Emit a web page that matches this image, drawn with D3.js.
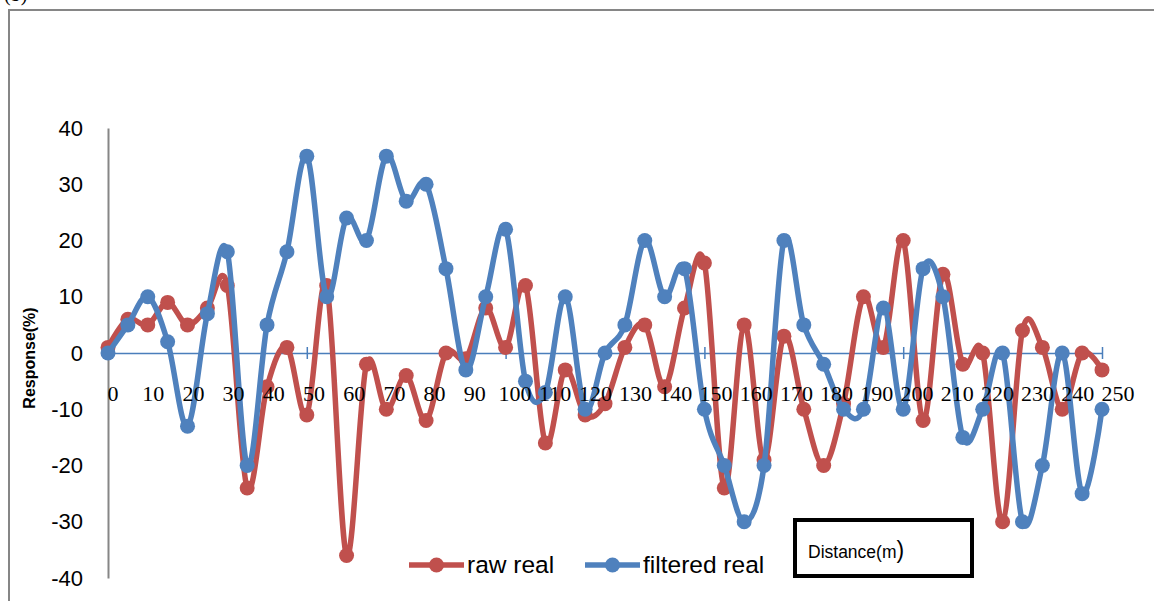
<!DOCTYPE html>
<html>
<head>
<meta charset="utf-8">
<script src="https://cdn.jsdelivr.net/npm/d3@7"></script>
<style>
  body { margin: 0; background: #fff; }
  svg { display: block; }
</style>
</head>
<body>
<svg id="chart"></svg>
<script>
// values (51 points, one every 5 m)
var rawReal = [1, 6, 5, 9, 5, 8, 12, -24, -6, 1, -11, 12, -36, -2, -10, -4, -12, 0, -1, 8,
    1, 12, -16, -3, -11, -9, 1, 5, -6, 8, 16, -24, 5, -19, 3, -10, -20, -9, 10, 1,
    20, -12, 14, -2, 0, -30, 4, 1, -10, 0, -3];
var filteredReal = [0, 5, 10, 2, -13, 7, 18, -20, 5, 18, 35, 10, 24, 20, 35, 27, 30, 15, -3, 10,
    22, -5, -7, 10, -10, 0, 5, 20, 10, 15, -10, -20, -30, -20, 20, 5, -2, -10, -10, 8,
    -10, 15, 10, -15, -10, 0, -30, -20, 0, -25, -10];
var yTicks = [40, 30, 20, 10, 0, -10, -20, -30, -40];
var distLabels = ["0", "10", "20", "30", "40", "50", "60", "70", "80", "90", "100", "110", "120",
    "130", "140", "150", "160", "170", "180", "190", "200", "210", "220", "230", "240", "250"];
var seriesNames = ["raw real", "filtered real"];

const width = 1154;
const height = 601;
const red = "#C0504D";
const blue = "#4F81BD";

var svg = d3.select("#chart")
    .attr("width", width)
    .attr("height", height)
    .attr("viewBox", [0, 0, width, height]);

// outer frame (right/bottom run off the picture)
svg.append("path")
    .attr("d", "M9,601 V10 H1160")
    .attr("fill", "none")
    .attr("stroke", "#868686")
    .attr("stroke-width", 2);

svg.append("text")
    .attr("x", 4).attr("y", 1)
    .attr("font-family", "Liberation Serif")
    .attr("font-size", 20)
    .text("(b)");

const x = d3.scalePoint(d3.range(rawReal.length), [108, 1102]);
const y = d3.scaleLinear([-40, 40], [578, 128]);

// y axis: grey line, labels on the left, no ticks
var yAxis = svg.append("g")
    .attr("transform", "translate(108,0)")
    .call(d3.axisLeft(y).tickValues(yTicks).tickSize(0).tickPadding(25).tickFormat(function(d) { return String(d); }));
yAxis.select(".domain").attr("stroke", "#868686").attr("stroke-width", 2);
yAxis.selectAll("text")
    .attr("font-family", "Liberation Sans")
    .attr("font-size", 22)
    .attr("fill", "#000");

svg.append("text")
    .attr("transform", "translate(35,358) rotate(-90)")
    .attr("text-anchor", "middle")
    .attr("font-family", "Liberation Sans")
    .attr("font-weight", "bold")
    .attr("font-size", 16)
    .text("Response(%)");

// x axis at zero: blue line, ticks every 10 points
var xAxis = svg.append("g")
    .attr("transform", "translate(0," + y(0) + ")")
    .call(d3.axisBottom(x).tickValues(d3.range(10, rawReal.length, 10)).tickSizeInner(6).tickSizeOuter(0).tickFormat(""));
xAxis.select(".domain").attr("stroke", "#4A7EBB").attr("stroke-width", 1.5);
xAxis.selectAll(".tick line").attr("stroke", "#4A7EBB").attr("stroke-width", 1.5).attr("y1", -6);

var line = d3.line()
    .x(function(d, i) { return x(i); })
    .y(function(d) { return y(d); })
    .curve(d3.curveCardinal.tension(0));

function drawSeries(values, color) {
    svg.append("path")
        .datum(values)
        .attr("d", line)
        .attr("fill", "none")
        .attr("stroke", color)
        .attr("stroke-width", 5.5)
        .attr("stroke-linejoin", "round");
    svg.append("g")
        .selectAll("circle")
        .data(values)
        .join("circle")
        .attr("cx", function(d, i) { return x(i); })
        .attr("cy", function(d) { return y(d); })
        .attr("r", 7.5)
        .attr("fill", color);
}
drawSeries(rawReal, red);
drawSeries(filteredReal, blue);

// distance labels sit in their own text row over the plot
const xl = d3.scalePoint(distLabels, [113, 1118]);
svg.append("g")
    .selectAll("text")
    .data(distLabels)
    .join("text")
    .attr("x", function(d) { return xl(d); })
    .attr("y", 401)
    .attr("text-anchor", "middle")
    .attr("font-family", "Liberation Serif")
    .attr("font-size", 22)
    .text(function(d) { return d; });

// legend
var legendItems = [
    { name: seriesNames[0], color: red, x0: 409, x1: 464, tx: 467 },
    { name: seriesNames[1], color: blue, x0: 585, x1: 640, tx: 643 }
];
var lg = svg.append("g");
legendItems.forEach(function(it) {
    lg.append("line")
        .attr("x1", it.x0).attr("x2", it.x1)
        .attr("y1", 565).attr("y2", 565)
        .attr("stroke", it.color).attr("stroke-width", 5.5);
    lg.append("circle")
        .attr("cx", (it.x0 + it.x1) / 2).attr("cy", 565).attr("r", 7.5)
        .attr("fill", it.color);
    lg.append("text")
        .attr("x", it.tx).attr("y", 573)
        .attr("font-family", "Liberation Sans")
        .attr("font-size", 24.5)
        .text(it.name);
});

// "Distance(m)" box
svg.append("rect")
    .attr("x", 795).attr("y", 520)
    .attr("width", 177).attr("height", 56)
    .attr("fill", "#fff")
    .attr("stroke", "#000")
    .attr("stroke-width", 4);
var dt = svg.append("text")
    .attr("x", 808).attr("y", 558)
    .attr("font-family", "Liberation Sans")
    .attr("font-size", 17.5);
dt.append("tspan").text("Distance(m");
dt.append("tspan").attr("font-size", 23).text(")");
</script>
</body>
</html>
